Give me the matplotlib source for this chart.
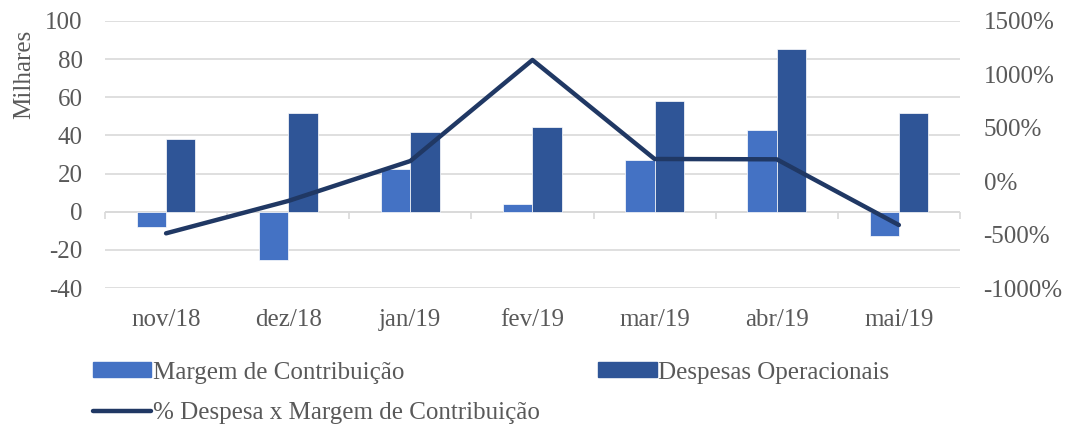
import matplotlib
matplotlib.use("Agg")
import matplotlib.pyplot as plt
from matplotlib.lines import Line2D
from matplotlib.patches import Patch
import numpy as np

plt.rcParams["font.family"] = ["Liberation Serif", "DejaVu Serif"]
plt.rcParams["axes.unicode_minus"] = False

meses = ["nov/18", "dez/18", "jan/19", "fev/19", "mar/19", "abr/19", "mai/19"]
margem = [-7.8, -25.5, 22.3, 4.0, 27.2, 42.9, -12.7]
despesas = [38.0, 51.5, 41.7, 44.3, 58.1, 85.3, 51.7]
pct_despesa = [-488, -185, 189, 1135, 208, 205, -410]

c_margem = "#4472C4"
c_desp = "#2F5597"
c_line = "#203864"
c_text = "#595959"
c_grid = "#D9D9D9"
fs = 18

fig = plt.figure(figsize=(10.66, 4.30), dpi=100)
ax = fig.add_axes([0.0985, 0.3302, 0.802, 0.621])

x = np.arange(len(meses))
w = 0.24
ax.bar(x - w / 2, margem, w, color=c_margem, edgecolor="white", linewidth=0.5, zorder=2)
ax.bar(x + w / 2, despesas, w, color=c_desp, edgecolor="white", linewidth=0.5, zorder=2)

ax.set_ylim(-40, 100)
ax.set_yticks(np.arange(-40, 101, 20))
ax.set_xlim(-0.5, len(meses) - 0.5)
ax.grid(axis="y", color=c_grid, linewidth=1.2, zorder=0)
ax.axhline(0, color=c_grid, linewidth=1.2, zorder=1)
for s in ax.spines.values():
    s.set_visible(False)
ax.tick_params(axis="y", length=0, labelsize=fs, labelcolor=c_text, pad=16)
ax.set_xticks(x)
ax.set_xticklabels(meses)
ax.tick_params(axis="x", length=0, labelsize=fs, labelcolor=c_text, pad=15)

# small ticks at category boundaries on the zero line
zero_pos = (0 - (-40)) / (100 - (-40))
sec = ax.secondary_xaxis(zero_pos)
sec.set_xticks(np.arange(-0.5, len(meses), 1.0))
sec.set_xticklabels([])
sec.tick_params(axis="x", direction="out", length=5, width=1.2, color=c_grid)
sec.spines["bottom"].set_visible(False)

ax2 = ax.twinx()
ax2.plot(x, pct_despesa, color=c_line, linewidth=3.2, solid_capstyle="round", zorder=3)
ax2.set_ylim(-1000, 1500)
ax2.set_yticks(np.arange(-1000, 1501, 500))
ax2.set_yticklabels([f"{v}%" for v in range(-1000, 1501, 500)])
ax2.tick_params(axis="y", length=0, labelsize=fs, labelcolor=c_text, pad=17)
for s in ax2.spines.values():
    s.set_visible(False)

fig.text(0.023, 0.828, "Milhares", rotation=90, ha="center", va="center",
         fontsize=fs, color=c_text)

leg_kw = dict(frameon=False, fontsize=fs, labelcolor=c_text, loc="center left",
              borderpad=0, borderaxespad=0, handletextpad=0.05, handlelength=2.35,
              handleheight=0.55)
fig.legend([Patch(color=c_margem)], ["Margem de Contribuição"],
           bbox_to_anchor=(0.087, 0.133), **leg_kw)
fig.legend([Patch(color=c_desp)], ["Despesas Operacionais"],
           bbox_to_anchor=(0.561, 0.133), **leg_kw)
fig.legend([Line2D([0], [0], color=c_line, linewidth=3.2, solid_capstyle="round")],
           ["% Despesa x Margem de Contribuição"],
           bbox_to_anchor=(0.087, 0.04), **leg_kw)

fig.savefig("out.png", dpi=100)
